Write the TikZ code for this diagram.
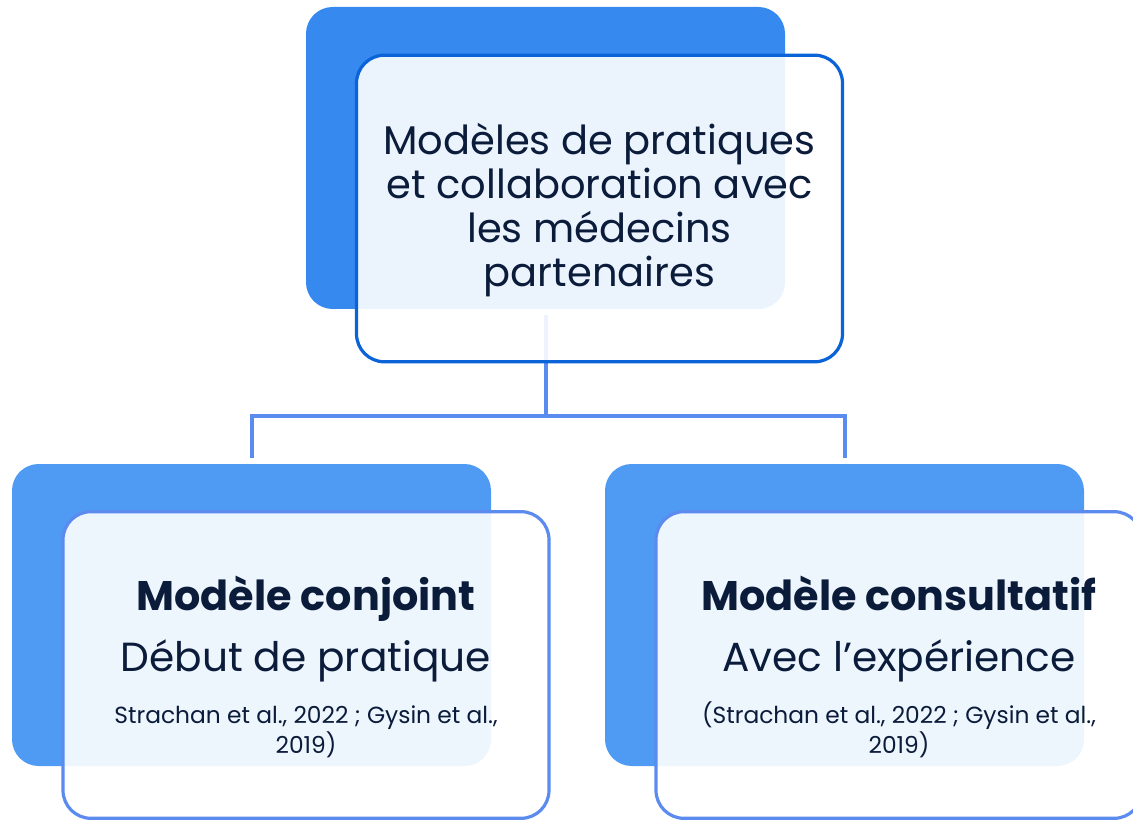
\documentclass[tikz,border=0pt]{standalone}
\usepackage{fontspec}
\setmainfont{Poppins}

\definecolor{topblue}{HTML}{3689EE}
\definecolor{topline}{HTML}{0A64D8}
\definecolor{subblue}{HTML}{4F9AF3}
\definecolor{subline}{HTML}{5B8BEF}
\definecolor{ink}{HTML}{0B1B3A}

\tikzset{
  backbox/.style={rectangle, rounded corners=20pt, inner sep=0pt,
    minimum width=359.25pt, minimum height=226.5pt},
  frontbox/.style={rectangle, rounded corners=21pt, draw, line width=2.4pt,
    fill=white, fill opacity=0.9, text opacity=1, text=ink, align=center,
    inner sep=0pt, minimum width=364.5pt, minimum height=230pt},
  link/.style={subline, line width=3pt},
}

\newcommand{\citebox}[2]{{\fontsize{17.5}{19.5}\selectfont
  \begin{tabular}[t]{@{}c@{}}#1\\#2\end{tabular}}}

\begin{document}
\begin{tikzpicture}[x=0.75pt,y=-0.75pt]
\useasboundingbox (0,0) rectangle (1133,820);

% back boxes
\node[backbox, fill=topblue] (topback) at (545.5,158) {};
\node[backbox, fill=subblue] (leftback) at (251.5,615) {};
\node[backbox, fill=subblue] (rightback) at (844.5,615) {};

% connectors
\coordinate (fork) at (545.5,416);
\draw[link] ([yshift=-4.5pt]topback.south) -- (fork);
\draw[link] ([yshift=4.5pt]leftback.north) |- (fork) -| ([yshift=4.5pt]rightback.north);

% front boxes
\node[frontbox, draw=topline, font=\fontsize{30}{33}\selectfont] (topbox) at (599.5,208.5)
  {\rule{0pt}{26pt}Modèles de pratiques\\ et collaboration avec\\ les médecins\\ partenaires};
\node[frontbox, draw=subline, font=\fontsize{30.5}{46}\selectfont] (leftbox) at (306,665)
  {\rule{0pt}{31pt}{\fontsize{31}{46}\bfseries Modèle conjoint}\\ Début de pratique\\[-7pt]
   \citebox{Strachan et al., 2022 ; Gysin et al.,}{2019)}};
\node[frontbox, draw=subline, font=\fontsize{30.5}{46}\selectfont] (rightbox) at (899,665)
  {\rule{0pt}{31pt}{\fontsize{31}{46}\bfseries Modèle consultatif}\\ Avec l’expérience\\[-7pt]
   \citebox{(Strachan et al., 2022 ; Gysin et al.,}{2019)}};

\end{tikzpicture}
\end{document}
